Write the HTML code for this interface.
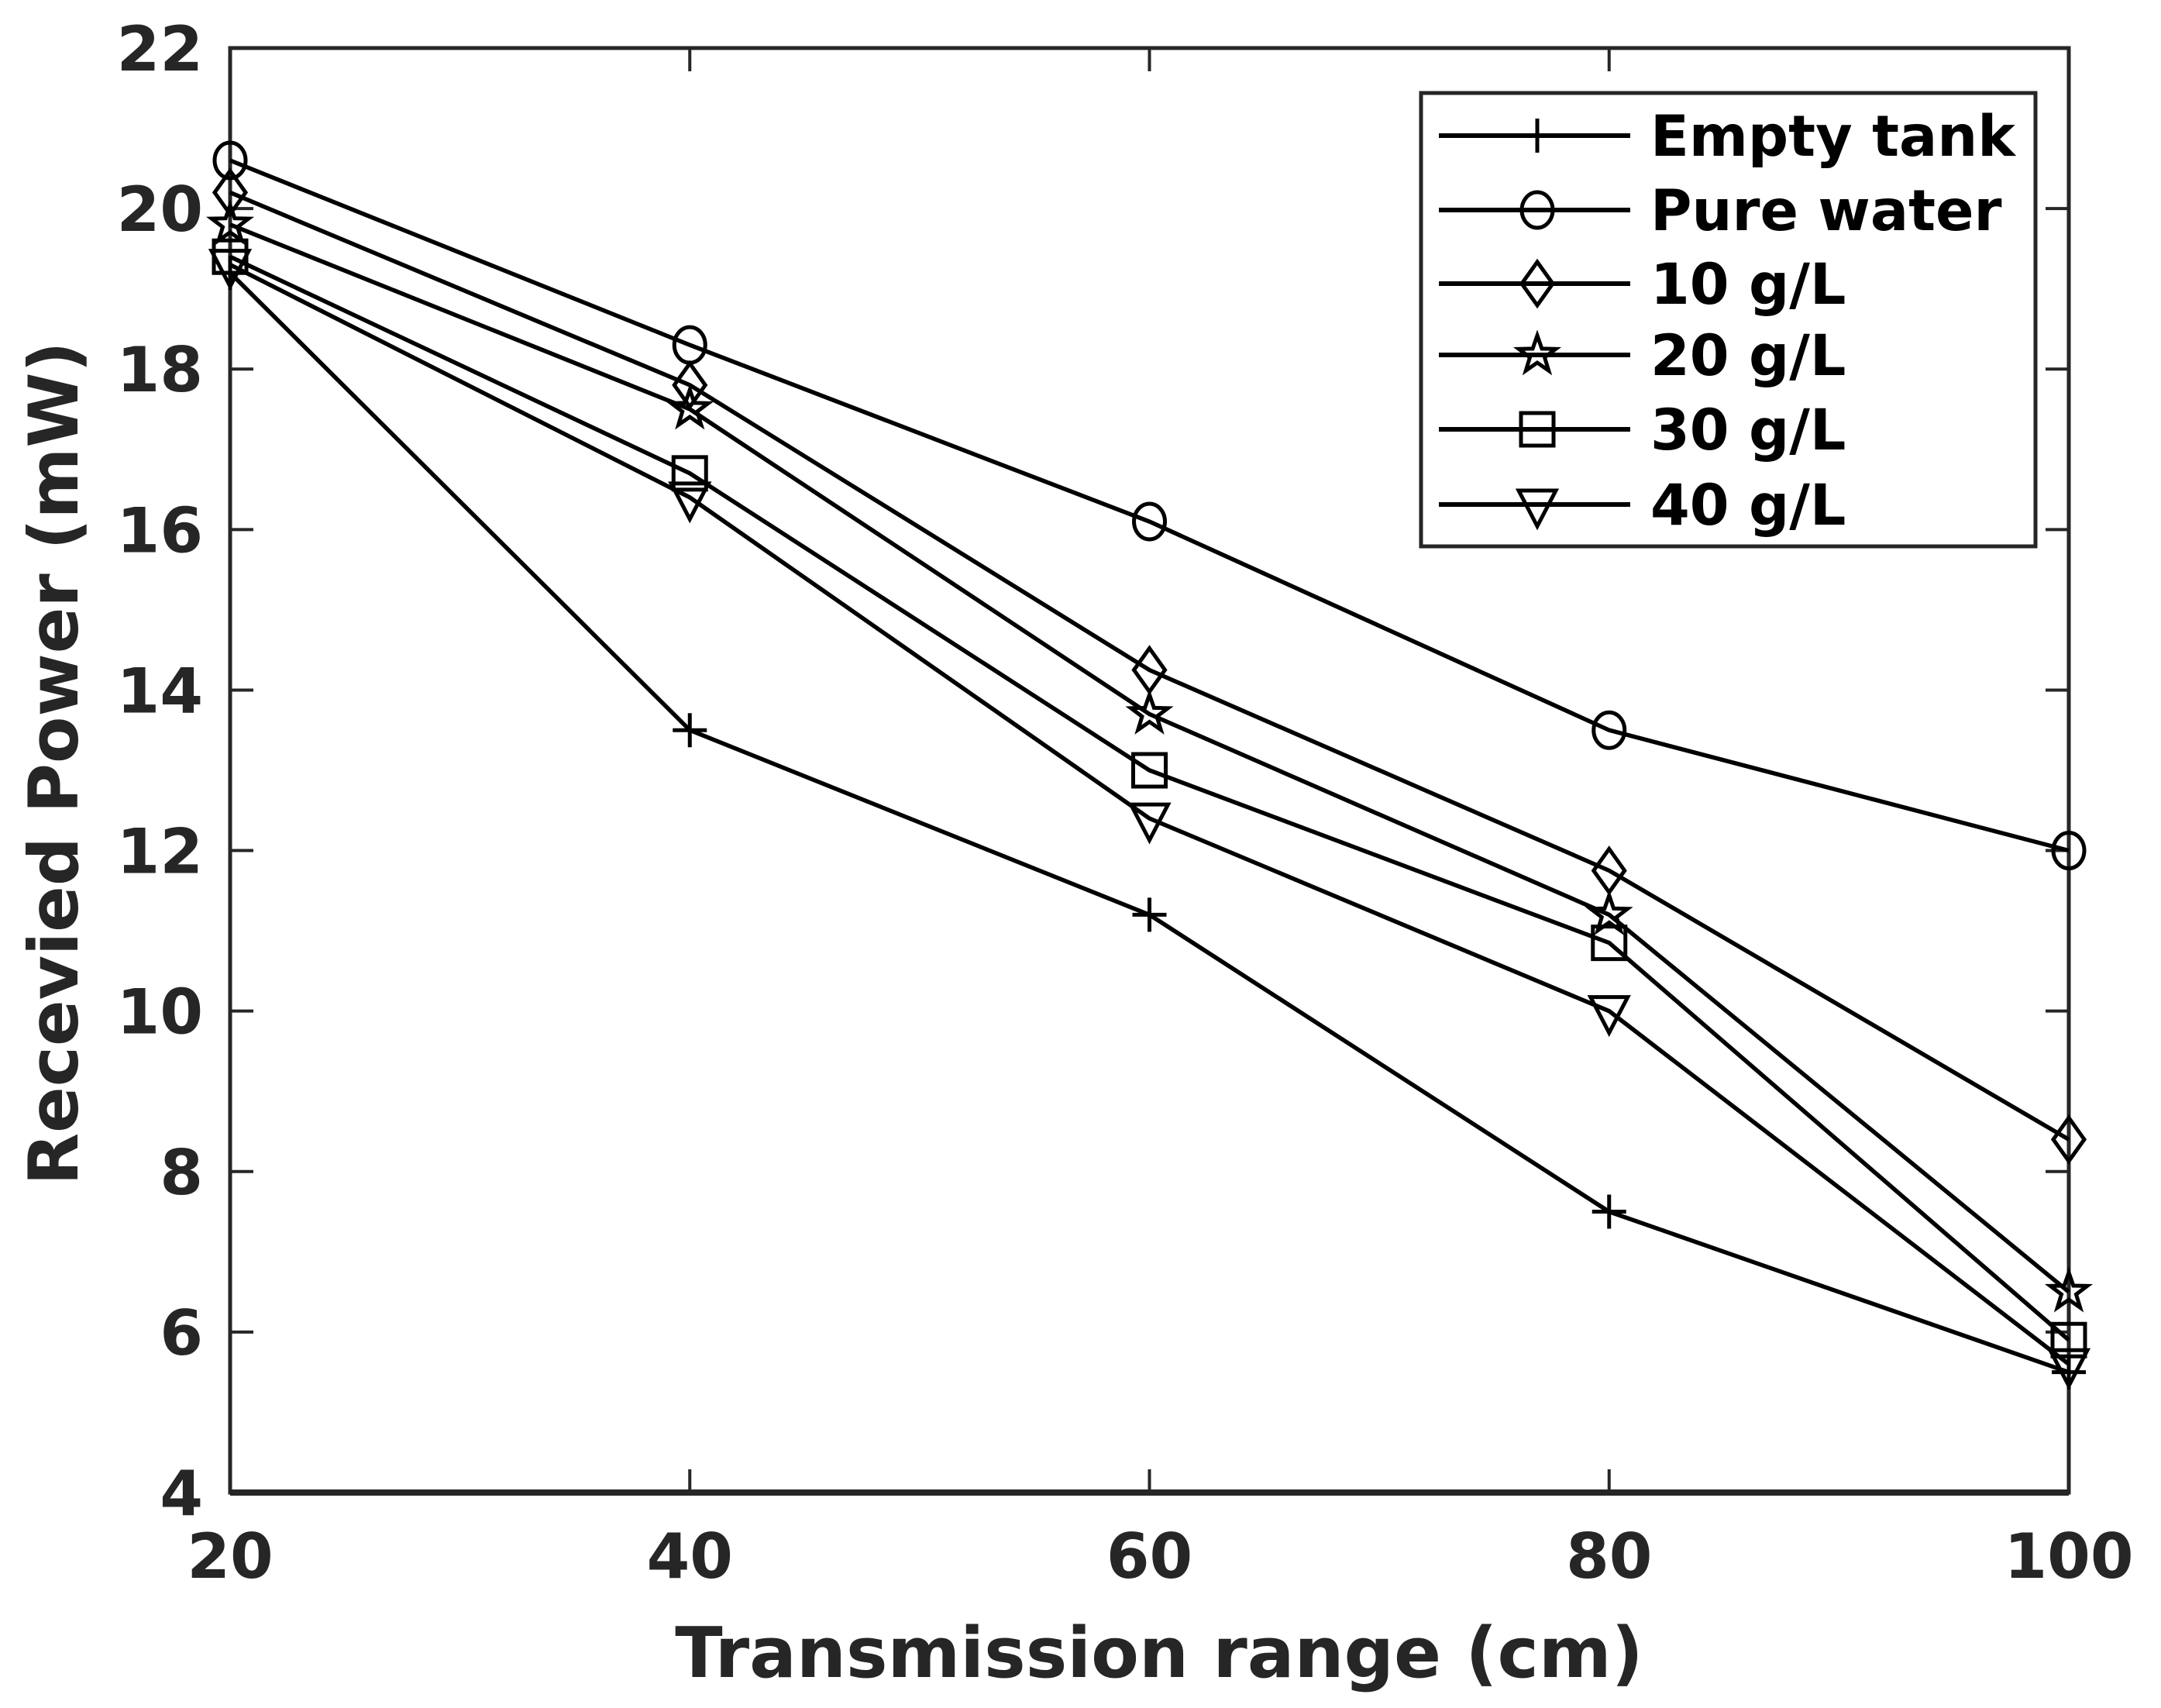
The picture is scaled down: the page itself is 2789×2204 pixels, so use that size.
<!DOCTYPE html>
<html><head><meta charset="utf-8"><style>
html,body{margin:0;padding:0;background:#fff}
svg{display:block}
text{font-family:"DejaVu Sans","Liberation Sans",sans-serif;font-weight:bold}
</style></head><body>
<svg id="chart" width="2789" height="2204" viewBox="0 0 2789 2204" xmlns="http://www.w3.org/2000/svg">
<rect x="0" y="0" width="2789" height="2204" fill="#fff"/>
<g id="axes"></g>
<g id="series"></g>
<g id="legend"></g>
</svg>
<script>
const xCats = [20, 40, 60, 80, 100];
const yTicks = [4, 6, 8, 10, 12, 14, 16, 18, 20, 22];
const seriesNames = ["Empty tank", "Pure water", "10 g/L", "20 g/L", "30 g/L", "40 g/L"];
const emptyTank = [19.2, 13.5, 11.2, 7.5, 5.5];
const pureWater = [20.6, 18.3, 16.1, 13.5, 12.0];
const g10 = [20.2, 17.8, 14.25, 11.75, 8.4];
const g20 = [19.8, 17.5, 13.7, 11.2, 6.5];
const g30 = [19.4, 16.7, 13.0, 10.85, 5.9];
const g40 = [19.3, 16.4, 12.4, 10.0, 5.6];

const NS = "http://www.w3.org/2000/svg";
const L = 297, R = 2670, T = 62, B = 1926;
const xMin = 20, xMax = 100, yMin = 4, yMax = 22;
function xs(v){ return L + (v - xMin) / (xMax - xMin) * (R - L); }
function ys(v){ return B - (v - yMin) / (yMax - yMin) * (B - T); }
function mk(tag, attrs, parent){
  const e = document.createElementNS(NS, tag);
  for (const k in attrs) e.setAttribute(k, attrs[k]);
  parent.appendChild(e);
  return e;
}
const axes = document.getElementById('axes');
const AX = '#262626';
const frame = mk('rect', {x:L, y:T, width:R-L, height:B-T, fill:'none', stroke:AX, 'stroke-width':5}, axes);


const bx = mk('line', {x1:L, y1:B, x2:R, y2:B, stroke:AX, 'stroke-width':8}, axes);


xCats.forEach(v => {
  const x = xs(v);
  const t1 = mk('line', {x1:x, y1:B, x2:x, y2:B-30, stroke:AX, 'stroke-width':4}, axes);
  
  
  const t2 = mk('line', {x1:x, y1:T, x2:x, y2:T+30, stroke:AX, 'stroke-width':4}, axes);
  
  
  const lb = mk('text', {x:x, y:2036, 'text-anchor':'middle', 'font-size':80, fill:AX}, axes);
  lb.textContent = v;
  
  
});
yTicks.forEach(v => {
  const y = ys(v);
  const t1 = mk('line', {x1:L, y1:y, x2:L+30, y2:y, stroke:AX, 'stroke-width':4}, axes);
  
  
  const t2 = mk('line', {x1:R, y1:y, x2:R-30, y2:y, stroke:AX, 'stroke-width':4}, axes);
  
  
  const lb = mk('text', {x:262, y:y+29, 'text-anchor':'end', 'font-size':80, fill:AX}, axes);
  lb.textContent = v;
  
  
});
const xt = mk('text', {x:1496, y:2164, 'text-anchor':'middle', 'font-size':90, fill:AX}, axes);
xt.textContent = 'Transmission range (cm)';


const yt = mk('text', {x:0, y:0, 'text-anchor':'middle', 'font-size':88, fill:AX, transform:'translate(100,985) rotate(-90)'}, axes);
yt.textContent = 'Recevied Power (mW)';



function marker(type, cx, cy, parent){
  const s = 22;
  const st = {fill:'none', stroke:'#000', 'stroke-width':5};
  let e;
  if (type === 'plus') {
    e = mk('path', Object.assign({d:`M${cx-s} ${cy}H${cx+s}M${cx} ${cy-s}V${cy+s}`}, st), parent);
  } else if (type === 'circle') {
    e = mk('ellipse', Object.assign({cx:cx, cy:cy, rx:20, ry:23}, st), parent);
  } else if (type === 'diamond') {
    e = mk('path', Object.assign({d:`M${cx} ${cy-s-6}L${cx+s-2} ${cy}L${cx} ${cy+s+6}L${cx-s+2} ${cy}Z`}, st), parent);
  } else if (type === 'star') {
    let d = '';
    for (let i = 0; i < 10; i++) {
      const r = i % 2 ? 10 : 25;
      const a = -Math.PI/2 + i*Math.PI/5;
      d += (i ? 'L' : 'M') + (cx + r*Math.cos(a)).toFixed(1) + ' ' + (cy + r*Math.sin(a)).toFixed(1);
    }
    e = mk('path', Object.assign({d:d + 'Z'}, st), parent);
  } else if (type === 'square') {
    e = mk('rect', Object.assign({x:cx-21, y:cy-21, width:42, height:42}, st), parent);
  } else {
    e = mk('path', Object.assign({d:`M${cx-s-2} ${cy-18}H${cx+s+2}L${cx} ${cy+28}Z`}, st), parent);
  }
  
  
}
const allData = [emptyTank, pureWater, g10, g20, g30, g40];
const mtypes = ['plus', 'circle', 'diamond', 'star', 'square', 'tri'];
const sg = document.getElementById('series');
allData.forEach((vals, si) => {
  const g = mk('g', {}, sg);
  
  
  const pts = vals.map((v, i) => xs(xCats[i]).toFixed(1) + ',' + ys(v).toFixed(1)).join(' ');
  const pl = mk('polyline', {points:pts, fill:'none', stroke:'#000', 'stroke-width':5.5}, g);
  
  
  vals.forEach((v, i) => marker(mtypes[si], xs(xCats[i]), ys(v), g));
});
const lg = document.getElementById('legend');


const lbox = mk('rect', {x:1834, y:120, width:793, height:585, fill:'#fff', stroke:AX, 'stroke-width':5}, lg);


const rowsY = [175, 271, 366, 458, 554, 651];
seriesNames.forEach((n, i) => {
  const g = mk('g', {}, lg);
  
  
  const ln = mk('line', {x1:1857, y1:rowsY[i], x2:2104, y2:rowsY[i], stroke:'#000', 'stroke-width':6}, g);
  
  
  marker(mtypes[i], 1984, rowsY[i], g);
  const t = mk('text', {x:2130, y:rowsY[i]+26, 'font-size':73, fill:'#000'}, g);
  t.textContent = n;
  
  
});
</script>
</body></html>
